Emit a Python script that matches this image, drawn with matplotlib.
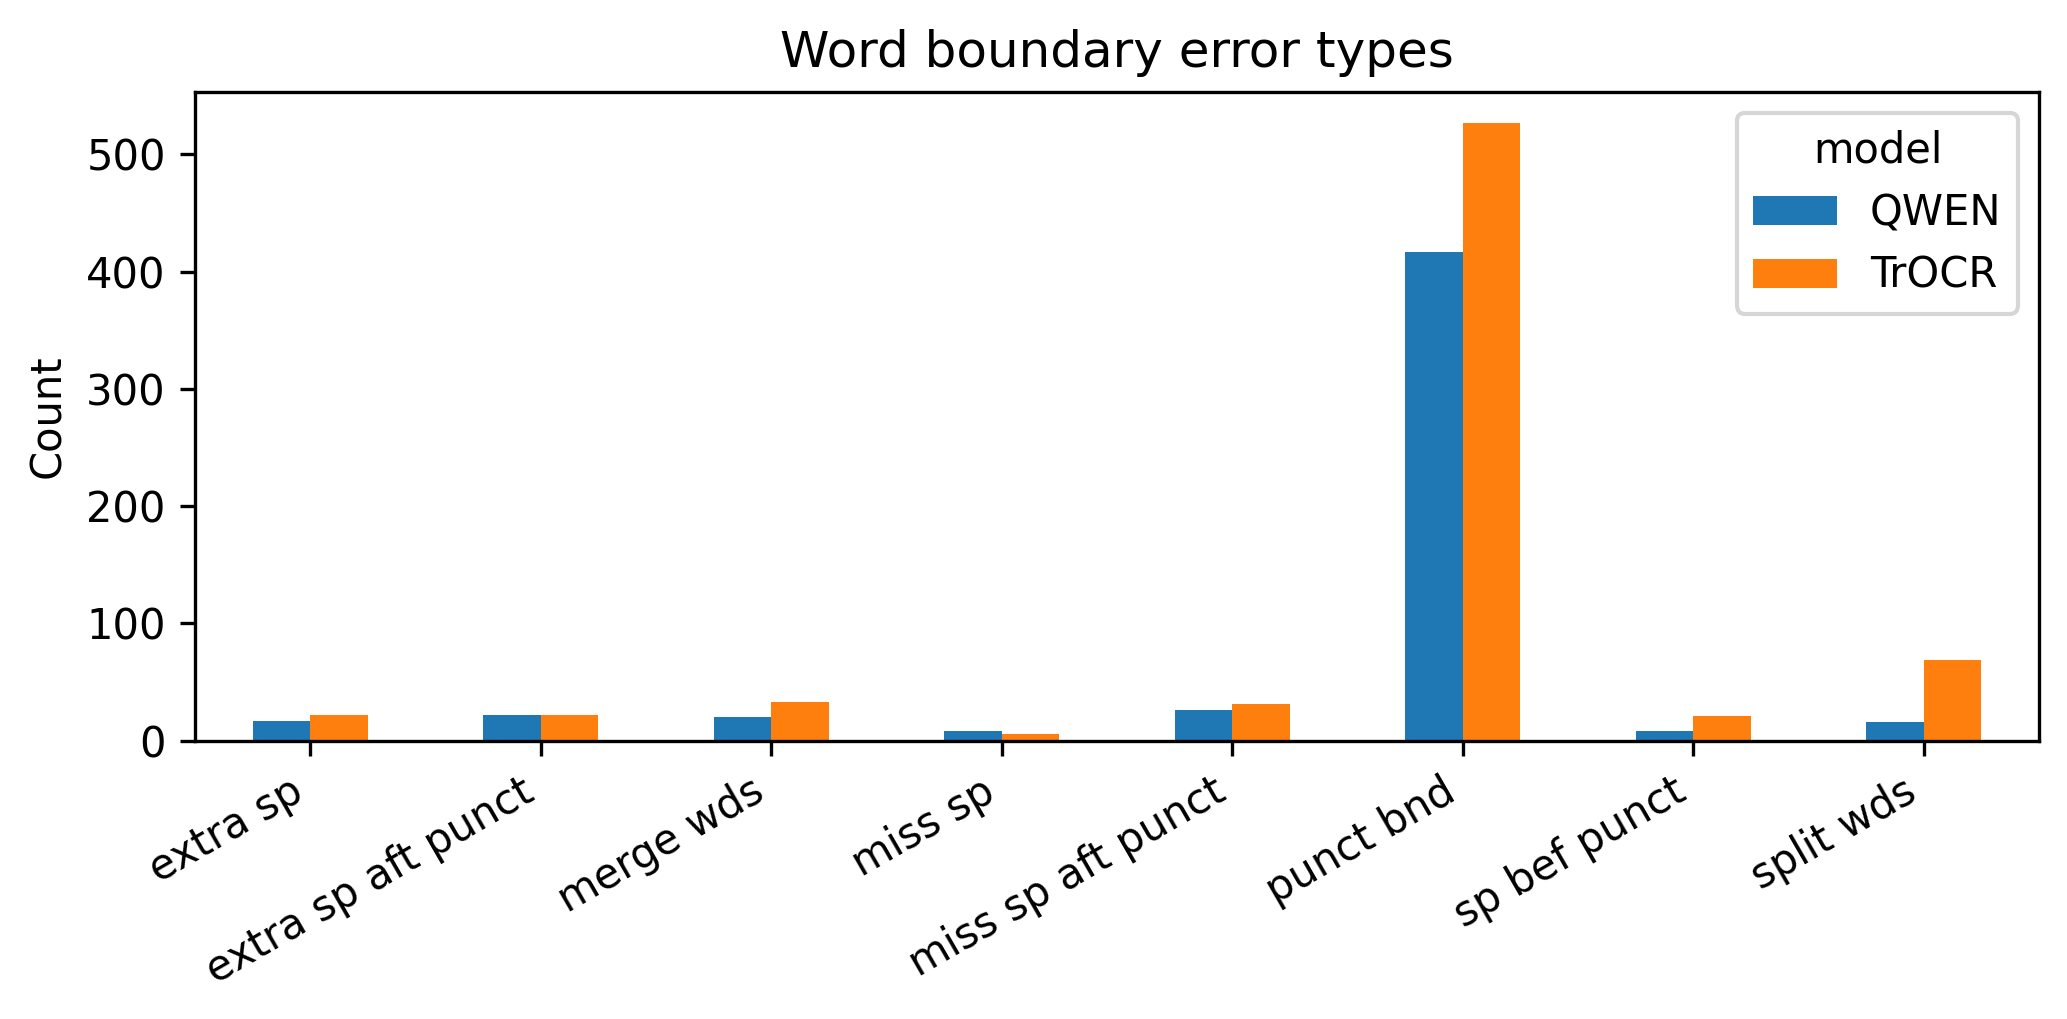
import numpy as np
import pandas as pd
import matplotlib
matplotlib.use("Agg")
import matplotlib.pyplot as plt

# error categories and counts per model
categories = ['extra sp', 'extra sp aft punct', 'merge wds', 'miss sp',
              'miss sp aft punct', 'punct bnd', 'sp bef punct', 'split wds']
qwen = [17, 22, 20, 8, 26, 417, 8, 16]
trocr = [22, 22, 33, 6, 31, 527, 21, 69]

df = pd.DataFrame({'QWEN': qwen, 'TrOCR': trocr}, index=categories)
df.columns.name = 'model'

fig, ax = plt.subplots(figsize=(2067/300, 1019/300), dpi=300)
df.plot(kind='bar', ax=ax)

ax.set_title('Word boundary error types')
ax.set_xlabel('')
ax.set_ylabel('Count')
plt.setp(ax.get_xticklabels(), rotation=30, ha='right')

fig.subplots_adjust(left=0.0943, right=0.9865, top=0.910, bottom=0.2731)
fig.savefig('out.png', dpi=300)
